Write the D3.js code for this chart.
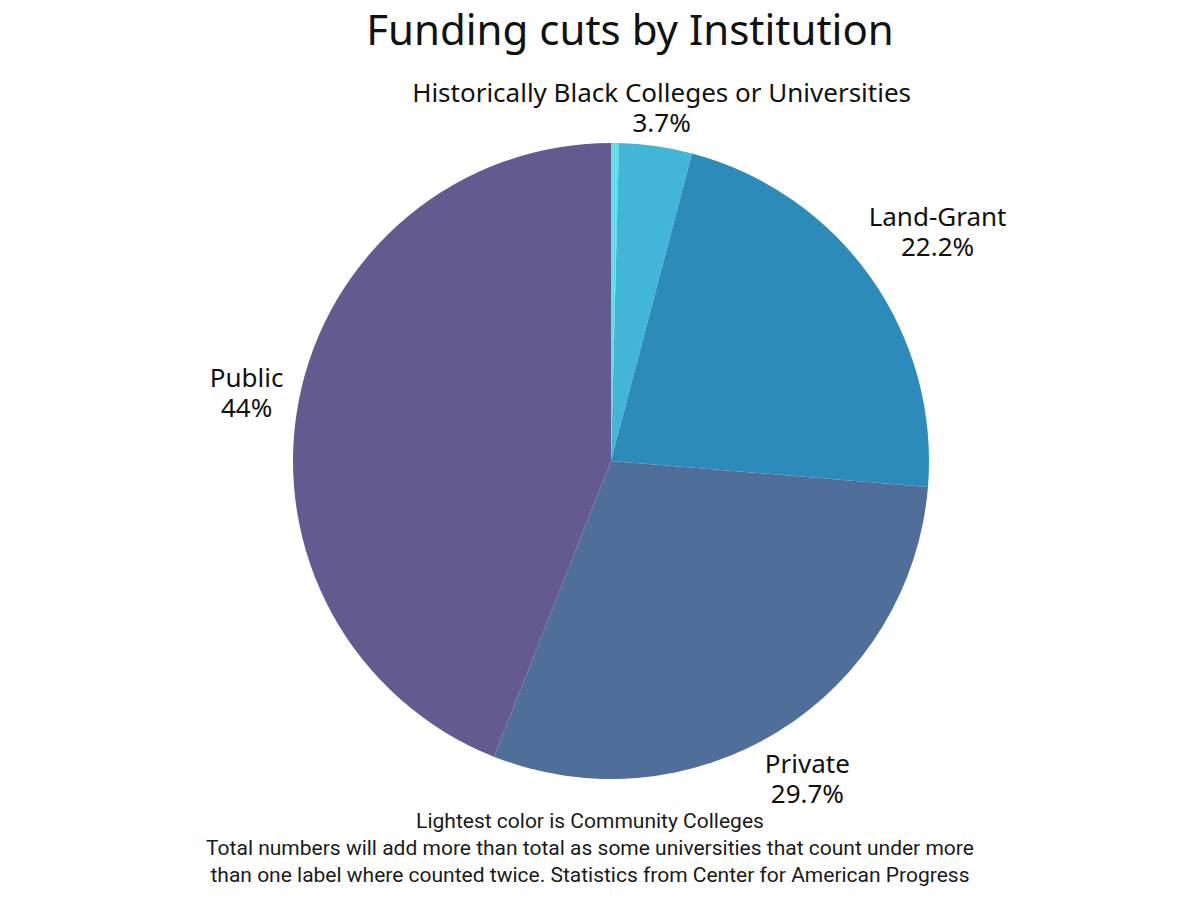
<!DOCTYPE html>
<html>
<head>
<meta charset="utf-8">
<script src="https://cdn.jsdelivr.net/npm/d3@7"></script>
<style>
  body { margin: 0; background: #fff; }
  text { font-family: "Noto Sans", sans-serif; fill: #111; }
</style>
</head>
<body>
<div id="chart"></div>
<script>
// data
const categories = ["Community Colleges", "Historically Black Colleges or Universities", "Land-Grant", "Private", "Public"];
const values = [0.4, 3.7, 22.2, 29.7, 44];
const labels = ["", "3.7%", "22.2%", "29.7%", "44%"];
const colors = ["#62dfe6", "#41b6d6", "#2d8bba", "#4f6e99", "#635a8f"];
const notes = [
  "Lightest color is Community Colleges",
  "Total numbers will add more than total as some universities that count under more",
  "than one label where counted twice. Statistics from Center for American Progress"
];

const width = 1200, height = 900;
const cx = 611, cy = 461, radius = 318;
// how far from the centre each label sits (layout only)
const labelDist = [0, 359, 400, 372, 371];

const svg = d3.select("#chart")
  .append("svg")
    .attr("width", width)
    .attr("height", height);

svg.append("text")
  .attr("x", 630)
  .attr("y", 45)
  .attr("text-anchor", "middle")
  .style("font-size", "42px")
  .text("Funding cuts by Institution");

const g = svg.append("g")
  .attr("transform", `translate(${cx}, ${cy})`);

const pie = d3.pie().sort(null).value(d => d.value);
const arcs = pie(categories.map((c, i) => ({ name: c, value: values[i], label: labels[i], color: colors[i], dist: labelDist[i] })));

const arc = d3.arc().innerRadius(0).outerRadius(radius);

g.selectAll("path")
  .data(arcs)
  .join("path")
    .attr("d", arc)
    .attr("fill", d => d.data.color);

// labels outside the pie, name on one line and share below
const lab = g.selectAll("text.lab")
  .data(arcs.filter(d => d.data.label !== ""))
  .join("text")
    .attr("class", "lab")
    .attr("text-anchor", "middle")
    .style("font-size", "26px")
    .attr("transform", d => {
      const r = d.data.dist;
      const [x, y] = d3.arc().innerRadius(r).outerRadius(r).centroid(d);
      return `translate(${x}, ${y})`;
    });

lab.append("tspan")
  .attr("x", 0)
  .attr("y", -4)
  .text(d => d.data.name);

lab.append("tspan")
  .attr("x", 0)
  .attr("dy", 30)
  .text(d => d.data.label);

// footnotes
svg.selectAll("text.note")
  .data(notes)
  .join("text")
    .attr("class", "note")
    .attr("x", 590)
    .attr("y", (d, i) => 828 + i * 27)
    .attr("text-anchor", "middle")
    .style("font-family", "Roboto, sans-serif")
    .style("font-size", "21px")
    .style("fill", "#1a1a1a")
    .text(d => d);
</script>
</body>
</html>
